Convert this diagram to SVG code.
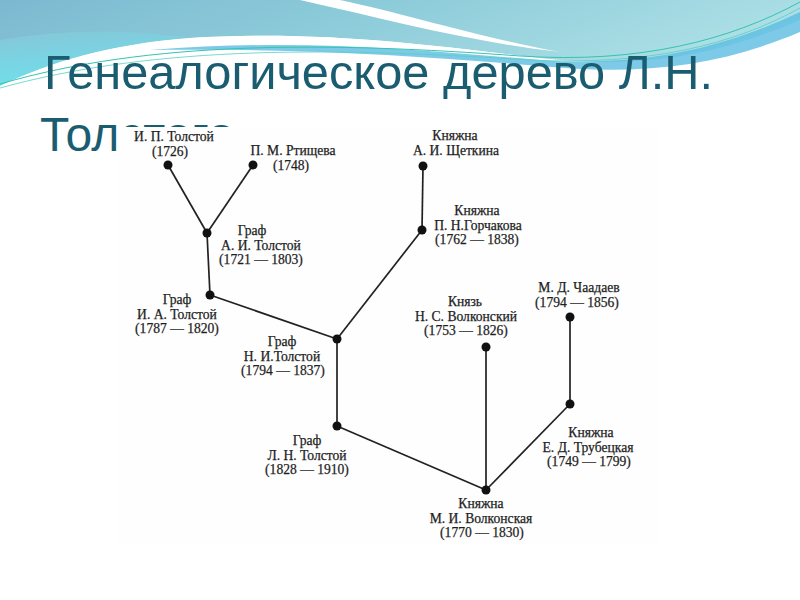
<svg xmlns="http://www.w3.org/2000/svg" width="800" height="600" viewBox="0 0 800 600">
<defs>
<linearGradient id="gTop" x1="0" y1="0" x2="1" y2="0.3">
<stop offset="0" stop-color="#7cb9d1"/>
<stop offset="0.45" stop-color="#8ccbd9"/>
<stop offset="1" stop-color="#aee0e6"/>
</linearGradient>
<linearGradient id="gLeft" x1="0" y1="0" x2="0.3" y2="1">
<stop offset="0" stop-color="#86c6d8"/>
<stop offset="1" stop-color="#6fe0ec"/>
</linearGradient>
<style>
.t{font-family:"Liberation Serif","Times New Roman",serif;font-size:13.6px;fill:#1e1e1e;stroke:#1e1e1e;stroke-width:0.25;text-anchor:middle}
.e{stroke:#222;stroke-width:1.7;fill:none}
.d{fill:#111}
.title{font-family:"Liberation Sans",Arial,sans-serif;font-size:48px;fill:#1a5c70}
</style>
</defs>
<rect width="800" height="600" fill="#ffffff"/>
<!-- top decoration -->
<path d="M0,0 H800 V20 C720,55 640,70 540,58 C430,45 320,30 190,38 C110,44 50,62 0,86 Z" fill="url(#gTop)"/>
<path d="M0,40 C60,30 120,28 190,38 C110,44 50,62 0,86 Z" fill="url(#gLeft)"/>
<path d="M0,86 C50,62 110,44 190,38 C320,30 430,45 540,58 C430,52 320,44 200,48 C120,54 60,70 10,90 Z" fill="#ffffff" opacity="0.9"/>
<path d="M340,0 C410,15 470,35 560,52 C470,42 390,20 300,0 Z" fill="#ffffff"/>
<path d="M150,50 C300,38 420,50 540,60 C650,68 730,45 800,12 V32 C720,66 640,76 540,66 C420,56 300,48 150,50 Z" fill="#5dbde2" opacity="0.8"/>
<path d="M0,84 C150,40 330,42 520,56 C640,64 730,40 800,2" fill="none" stroke="#35c3b0" stroke-width="1"/>
<path d="M0,88 C160,44 340,48 530,60 C650,66 735,44 800,8" fill="none" stroke="#57cfc2" stroke-width="0.8"/>
<!-- title -->
<text class="title" x="44" y="89" textLength="669" lengthAdjust="spacingAndGlyphs">Генеалогическое дерево Л.Н.</text>
<text class="title" x="40" y="151">Толстого</text>
<!-- picture area -->
<rect x="118" y="127" width="540" height="417" fill="#fefefe"/>
<!-- connectors -->
<g id="edges">
<line class="e" x1="168" y1="165" x2="207" y2="233"/>
<line class="e" x1="253" y1="165" x2="207" y2="233"/>
<line class="e" x1="207" y1="233" x2="210" y2="295"/>
<line class="e" x1="210" y1="295" x2="337" y2="339"/>
<line class="e" x1="423" y1="166" x2="422" y2="230"/>
<line class="e" x1="422" y1="230" x2="337" y2="339"/>
<line class="e" x1="337" y1="339" x2="337" y2="426"/>
<line class="e" x1="337" y1="426" x2="486" y2="490"/>
<line class="e" x1="486" y1="347" x2="486" y2="490"/>
<line class="e" x1="570" y1="317" x2="570" y2="404"/>
<line class="e" x1="570" y1="404" x2="486" y2="490"/>
</g>
<!-- nodes -->
<g id="ip"><circle class="d" cx="168" cy="165" r="4.5"/>
<text class="t" x="174" y="141">И. П. Толстой</text><text class="t" x="170" y="156">(1726)</text></g>
<g id="pm"><circle class="d" cx="253" cy="165" r="4.5"/>
<text class="t" x="293" y="155">П. М. Ртищева</text><text class="t" x="291" y="170">(1748)</text></g>
<g id="ai"><circle class="d" cx="207" cy="233" r="4.5"/>
<text class="t" x="252" y="235">Граф</text><text class="t" x="261" y="250">А. И. Толстой</text><text class="t" x="261" y="264">(1721 — 1803)</text></g>
<g id="ia"><circle class="d" cx="210" cy="295" r="4.5"/>
<text class="t" x="177" y="304">Граф</text><text class="t" x="177" y="319">И. А. Толстой</text><text class="t" x="177" y="333">(1787 — 1820)</text></g>
<g id="ni"><circle class="d" cx="337" cy="339" r="4.5"/>
<text class="t" x="282" y="346">Граф</text><text class="t" x="282" y="361">Н. И.Толстой</text><text class="t" x="283" y="375">(1794 — 1837)</text></g>
<g id="shch"><circle class="d" cx="423" cy="166" r="4.5"/>
<text class="t" x="455" y="140">Княжна</text><text class="t" x="456" y="155">А. И. Щеткина</text></g>
<g id="gorch"><circle class="d" cx="422" cy="230" r="4.5"/>
<text class="t" x="477" y="215">Княжна</text><text class="t" x="478" y="230">П. Н.Горчакова</text><text class="t" x="477" y="244">(1762 — 1838)</text></g>
<g id="volk"><circle class="d" cx="486" cy="347" r="4.5"/>
<text class="t" x="465" y="306">Князь</text><text class="t" x="466" y="321">Н. С. Волконский</text><text class="t" x="466" y="335">(1753 — 1826)</text></g>
<g id="chaad"><circle class="d" cx="570" cy="317" r="4.5"/>
<text class="t" x="579" y="292">М. Д. Чаадаев</text><text class="t" x="577" y="307">(1794 — 1856)</text></g>
<g id="trub"><circle class="d" cx="570" cy="404" r="4.5"/>
<text class="t" x="591" y="437">Княжна</text><text class="t" x="588" y="452">Е. Д. Трубецкая</text><text class="t" x="589" y="466">(1749 — 1799)</text></g>
<g id="ln"><circle class="d" cx="337" cy="426" r="4.5"/>
<text class="t" x="307" y="445">Граф</text><text class="t" x="307" y="460">Л. Н. Толстой</text><text class="t" x="307" y="474">(1828 — 1910)</text></g>
<g id="mi"><circle class="d" cx="486" cy="490" r="4.5"/>
<text class="t" x="481" y="508">Княжна</text><text class="t" x="481" y="523">М. И. Волконская</text><text class="t" x="482" y="537">(1770 — 1830)</text></g>
</svg>
